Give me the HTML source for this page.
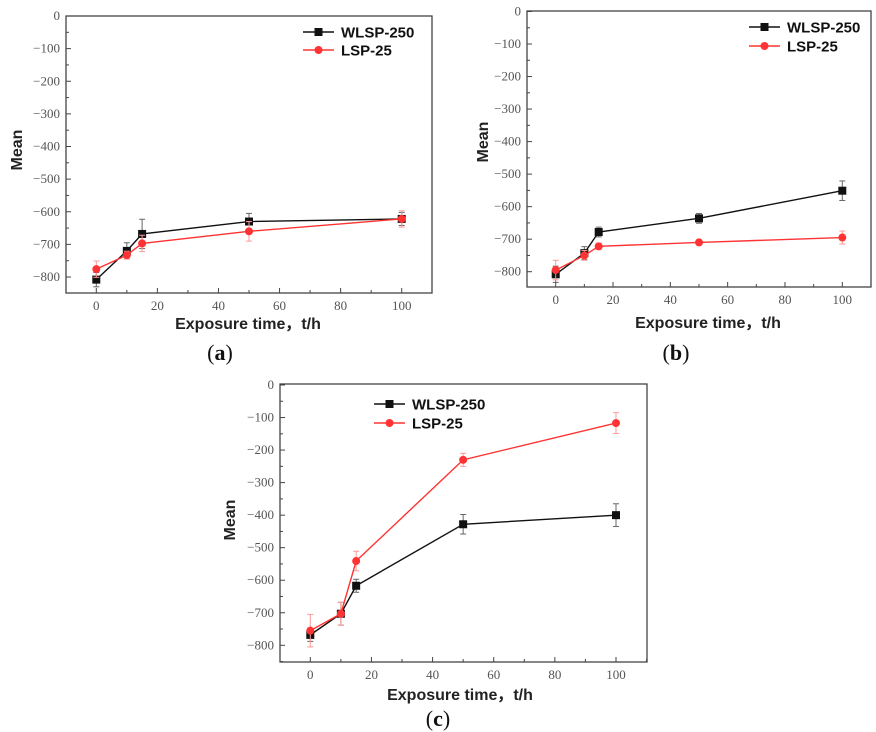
<!DOCTYPE html>
<html><head><meta charset="utf-8"><style>
body{margin:0;background:#fff;}
svg{display:block;}
.tk{font-family:"Liberation Serif",serif;font-size:13px;fill:#555;}
.ttl{font-family:"Liberation Sans",sans-serif;font-weight:bold;font-size:16px;fill:#222;}
.lg{font-family:"Liberation Sans",sans-serif;font-weight:bold;font-size:15px;fill:#111;}
.cap{font-family:"Liberation Serif",serif;font-size:22px;fill:#111;}
</style></head><body>
<svg id="svg" width="876" height="732"></svg>
<script>
const xCats=[0,10,15,50,100];
const xTicks=[0,20,40,60,80,100];
const yTicks=[0,-100,-200,-300,-400,-500,-600,-700,-800];
const aW=[-808,-720,-668,-630,-622];
const aWerr=[22,25,45,25,20];
const aL=[-776,-733,-697,-660,-622];
const aLerr=[25,12,25,30,25];
const bW=[-808,-743,-678,-636,-551];
const bWerr=[25,20,15,15,30];
const bL=[-795,-750,-722,-710,-695];
const bLerr=[30,15,10,8,20];
const cW=[-768,-703,-617,-428,-400];
const cWerr=[20,35,20,30,35];
const cL=[-755,-703,-541,-230,-117];
const cLerr=[50,35,30,20,32];

const NS="http://www.w3.org/2000/svg";
const svg=document.getElementById('svg');
function mk(t,a,p){const e=document.createElementNS(NS,t);for(const k in a)e.setAttribute(k,a[k]);(p||svg).appendChild(e);return e;}

const panels=[
 {id:'a',L:66,R:432,T:16,B:293,x0:96.3,x100:401.7,y0:16,y800:277,lgx:303,lgy:[32,50],xl:[248,329],ml:[17,150],cap:[220,360],W:aW,We:aWerr,Ls:aL,Le:aLerr},
 {id:'b',L:527,R:871,T:11,B:287,x0:555.7,x100:842.3,y0:11.5,y800:271.7,lgx:749,lgy:[27,46],xl:[708,328],ml:[483,142],cap:[676,360],W:bW,We:bWerr,Ls:bL,Le:bLerr},
 {id:'c',L:280,R:647,T:384,B:662,x0:310.3,x100:616,y0:385,y800:645.3,lgx:374,lgy:[404,423],xl:[460,700],ml:[230,520],cap:[438,726],W:cW,We:cWerr,Ls:cL,Le:cLerr}
];
panels.forEach(p=>{
 const g=mk('g',{});
 
 
 const sx=v=>p.x0+(p.x100-p.x0)*v/100;
 const sy=v=>p.y0+(p.y800-p.y0)*(-v)/800;
 const frame=mk('rect',{x:p.L,y:p.T,width:p.R-p.L,height:p.B-p.T,fill:'none',stroke:'#444','stroke-width':1.3},g);
 
 
 for(let v=0;v>=-850;v-=50){const y=sy(v);if(y>p.B)continue;const major=v%100===0;
  mk('line',{x1:p.L,x2:p.L+(major?5:3),y1:y,y2:y,stroke:'#444'},g);}
 yTicks.forEach(v=>{const t=mk('text',{x:p.L-6,y:sy(v)+4,'text-anchor':'end',class:'tk'},g);t.textContent=(v<0?'\u2212'+(-v):v);
  });
 for(let v=-10;v<=110;v+=10){const x=sx(v);if(x<=p.L||x>=p.R)continue;const major=v%20===0;
  mk('line',{x1:x,x2:x,y1:p.B,y2:p.B-(major?5:3),stroke:'#444'},g);}
 xTicks.forEach(v=>{const t=mk('text',{x:sx(v),y:p.B+17,'text-anchor':'middle',class:'tk'},g);t.textContent=v;
  });
 const xt=mk('text',{x:p.xl[0],y:p.xl[1],'text-anchor':'middle',class:'ttl'},g);xt.textContent='Exposure time，t/h';
 
 const yt=mk('text',{x:p.ml[0],y:p.ml[1],'text-anchor':'middle',class:'ttl',transform:`rotate(-90 ${p.ml[0]} ${p.ml[1]})`,dy:5},g);yt.textContent='Mean';
 
 const cp=mk('text',{x:p.cap[0],y:p.cap[1],'text-anchor':'middle',class:'cap'},g);cp.innerHTML='(<tspan font-weight="bold">'+p.id+'</tspan>)';
 
 const series=[{v:p.W,e:p.We,c:'#111',ec:'#666',sq:true,name:'WLSP-250'},{v:p.Ls,e:p.Le,c:'#f33',ec:'#f99',sq:false,name:'LSP-25'}];
 series.forEach((s,si)=>{
  const sg=mk('g',{},g);
  
  
  s.v.forEach((v,i)=>{const x=sx(xCats[i]);const y1=sy(v+s.e[i]),y2=sy(v-s.e[i]);
   mk('line',{x1:x,x2:x,y1:y1,y2:y2,stroke:s.ec},sg);
   mk('line',{x1:x-3,x2:x+3,y1:y1,y2:y1,stroke:s.ec},sg);
   mk('line',{x1:x-3,x2:x+3,y1:y2,y2:y2,stroke:s.ec},sg);});
  mk('polyline',{points:s.v.map((v,i)=>sx(xCats[i])+','+sy(v)).join(' '),fill:'none',stroke:s.c,'stroke-width':1.4},sg);
  s.v.forEach((v,i)=>{const x=sx(xCats[i]),y=sy(v);let m;
   if(s.sq)m=mk('rect',{x:x-4,y:y-4,width:8,height:8,fill:s.c},sg);else m=mk('circle',{cx:x,cy:y,r:4,fill:s.c},sg);
   });
  const ly=p.lgy[si];
  const lgg=mk('g',{},g);
  
  
  mk('line',{x1:p.lgx,x2:p.lgx+31,y1:ly,y2:ly,stroke:s.c,'stroke-width':1.4},lgg);
  if(s.sq)mk('rect',{x:p.lgx+11.5,y:ly-4,width:8,height:8,fill:s.c},lgg);else mk('circle',{cx:p.lgx+15.5,cy:ly,r:4,fill:s.c},lgg);
  const lt=mk('text',{x:p.lgx+38,y:ly+5.5,class:'lg'},lgg);lt.textContent=s.name;
 });
});
</script>
</body></html>
